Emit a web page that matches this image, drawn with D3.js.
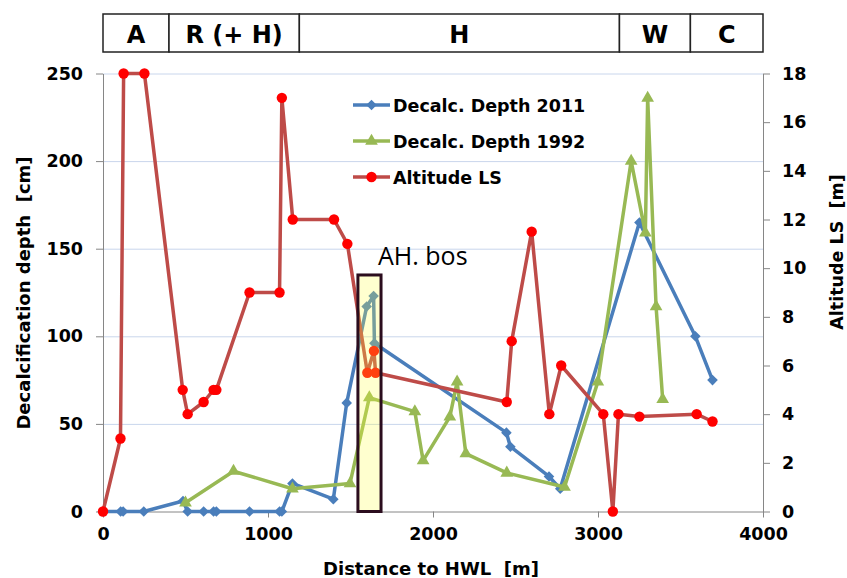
<html>

<head>
  <script src="https://d3js.org/d3.v7.min.js"></script>

  <style>
    body {
      margin: 0;
      background: #fff;
    }

    text {
      font-family: "DejaVu Sans", sans-serif;
      font-weight: bold;
      fill: #000;
      white-space: pre;
    }

    .axis path,
    .axis line {
      stroke: #868686;
    }

    .gridlines line {
      stroke: #c9d6ec;
    }

    .gridlines .domain {
      stroke: none;
    }
  </style>
</head>

<body>
  <svg id="chart" width="847" height="578"></svg>

  <script>
    // Decalcification depth 2011 [cm]
    const dist2011 = [0, 107, 122, 247, 485, 513, 610, 670, 687, 888, 1070, 1084, 1148, 1396, 1477, 1598, 1640, 1645, 2445, 2469, 2703, 2771, 3251, 3590, 3694];
    const depth2011 = [0, 0, 0, 0, 6, 0, 0, 0, 0, 0, 0, 0, 16, 7, 62, 117, 123, 96, 45, 37, 20, 13, 165, 100, 75];

    // Decalcification depth 1992 [cm]
    const dist1992 = [500, 791, 1148, 1497, 1614, 1890, 1940, 2102, 2146, 2199, 2447, 2797, 2999, 3201, 3287, 3301, 3352, 3392];
    const depth1992 = [5, 23, 13, 16, 65, 57, 29, 54, 74, 33, 22, 14, 74, 200, 159, 236, 117, 64];

    // Altitude LS [m] (right axis)
    const distAlt = [0, 106, 125, 251, 483, 513, 610, 670, 687, 888, 1070, 1084, 1150, 1400, 1481, 1602, 1642, 1652, 2447, 2477, 2598, 2705, 2777, 3032, 3090, 3124, 3251, 3598, 3694];
    const altitudeLS = [0, 3, 18, 18, 5, 4, 4.5, 5, 5, 9, 9, 17, 12, 12, 11, 5.7, 6.6, 5.7, 4.5, 7, 11.5, 4, 6, 4, 0, 4, 3.9, 4, 3.7];

    const seriesNames = ["Decalc. Depth 2011", "Decalc. Depth 1992", "Altitude LS"];

    // zones above the chart
    const zoneEdges = [0, 400, 1190, 3130, 3560, 4000];
    const zoneLabels = ["A", "R (+ H)", "H", "W", "C"];

    // highlighted "AH. bos" section
    const ahFrom = 1545, ahTo = 1685, ahTop = 135;

    const xTicks = [0, 1000, 2000, 3000, 4000];
    const depthTicks = [0, 50, 100, 150, 200, 250];
    const altTicks = [0, 2, 4, 6, 8, 10, 12, 14, 16, 18];

    const svg = d3.select("svg#chart");
    const margin = { top: 73.5, right: 84, bottom: 66.5, left: 103 };
    const width = +svg.attr("width");
    const height = +svg.attr("height");

    const xScale = d3.scaleLinear().domain([0, 4000]).range([margin.left, width - margin.right]);
    const yDepth = d3.scaleLinear().domain([0, 250]).range([height - margin.bottom, margin.top]);
    const yAlt = d3.scaleLinear().domain([0, 18]).range([height - margin.bottom, margin.top]);

    const x0 = margin.left, x1 = width - margin.right;
    const yBottom = height - margin.bottom;

    // gridlines
    svg.append("g")
      .attr("class", "gridlines")
      .attr("transform", `translate(${x0},0)`)
      .call(d3.axisLeft(yDepth).tickValues(depthTicks.slice(1)).tickSize(-(x1 - x0)).tickFormat(""));

    // axes
    const leftAxis = svg.append("g")
      .attr("class", "axis")
      .attr("transform", `translate(${x0},0)`)
      .call(d3.axisLeft(yDepth).tickValues(depthTicks).tickSize(7).tickPadding(13).tickSizeOuter(0));

    const rightAxis = svg.append("g")
      .attr("class", "axis")
      .attr("transform", `translate(${x1},0)`)
      .call(d3.axisRight(yAlt).tickValues(altTicks).tickSize(7).tickPadding(12).tickSizeOuter(0));

    const bottomAxis = svg.append("g")
      .attr("class", "axis")
      .attr("transform", `translate(0,${yBottom})`)
      .call(d3.axisBottom(xScale).tickValues(xTicks).tickFormat(d3.format("d"))
        .tickSize(6).tickPadding(10).tickSizeOuter(0));

    [leftAxis, rightAxis, bottomAxis].forEach(a => a.selectAll("text")
      .style("font-family", "'DejaVu Sans', sans-serif")
      .style("font-weight", "bold")
      .style("font-size", "17.5px")
      .attr("fill", "#000"));

    // axis titles
    svg.append("text")
      .attr("transform", `translate(30,${293})rotate(-90)`)
      .attr("text-anchor", "middle")
      .style("font-size", "18px")
      .text("Decalcification depth  [cm]");

    svg.append("text")
      .attr("transform", `translate(843,${252})rotate(-90)`)
      .attr("text-anchor", "middle")
      .style("font-size", "17.5px")
      .text("Altitude LS  [m]");

    svg.append("text")
      .attr("x", 431)
      .attr("y", 575)
      .attr("text-anchor", "middle")
      .style("font-size", "18px")
      .text("Distance to HWL  [m]");

    const series = [
      { name: seriesNames[0], xs: dist2011, ys: depth2011, y: yDepth, color: "#4a7ebb", marker: "diamond" },
      { name: seriesNames[1], xs: dist1992, ys: depth1992, y: yDepth, color: "#98b954", marker: "triangle" },
      { name: seriesNames[2], xs: distAlt, ys: altitudeLS, y: yAlt, color: "#be4b48", marker: "circle" }
    ];

    const markerPath = {
      diamond: d3.symbol(d3.symbolSquare, 56)(),
      triangle: d3.symbol(d3.symbolTriangle, 70)()
    };

    function drawMarker(g, s, cx, cy) {
      if (s.marker === "circle") {
        g.append("circle").attr("cx", cx).attr("cy", cy).attr("r", 5.2).attr("fill", "#ff0000");
      } else if (s.marker === "diamond") {
        g.append("path").attr("d", markerPath.diamond)
          .attr("transform", `translate(${cx},${cy})rotate(45)`).attr("fill", s.color);
      } else {
        g.append("path").attr("d", markerPath.triangle)
          .attr("transform", `translate(${cx},${cy})`).attr("fill", s.color);
      }
    }

    const lineArea = svg.append("g");
    series.forEach(s => {
      const pts = s.xs.map((d, i) => [d, s.ys[i]]);
      const line = d3.line().x(d => xScale(d[0])).y(d => s.y(d[1]));
      const g = lineArea.append("g");
      g.append("path")
        .datum(pts)
        .attr("d", line)
        .attr("fill", "none")
        .attr("stroke", s.color)
        .attr("stroke-width", 3.5)
        .attr("stroke-linejoin", "round");
      pts.forEach(d => drawMarker(g, s, xScale(d[0]), s.y(d[1])));
    });

    // AH. bos box
    svg.append("rect")
      .attr("x", xScale(ahFrom))
      .attr("y", yDepth(ahTop))
      .attr("width", xScale(ahTo) - xScale(ahFrom))
      .attr("height", yDepth(0) - yDepth(ahTop))
      .attr("fill", "#ffff40")
      .attr("fill-opacity", 0.25)
      .attr("stroke", "#2b0d1e")
      .attr("stroke-width", 3);

    svg.append("text")
      .attr("x", 378)
      .attr("y", 265)
      .style("font-family", "'Open Sans', sans-serif")
      .style("font-weight", "normal")
      .style("font-size", "25px")
      .text("AH. bos");

    // legend
    const legend = svg.append("g");
    series.forEach((s, i) => {
      const ly = 105 + i * 36;
      const g = legend.append("g");
      g.append("line")
        .attr("x1", 353).attr("x2", 390)
        .attr("y1", ly).attr("y2", ly)
        .attr("stroke", s.color)
        .attr("stroke-width", 3.5);
      drawMarker(g, s, 371.5, ly);
      g.append("text")
        .attr("x", 393)
        .attr("y", ly + 7)
        .style("font-size", "17.5px")
        .text(s.name);
    });

    // zone header
    const zones = svg.append("g");
    zoneLabels.forEach((label, i) => {
      const a = xScale(zoneEdges[i]), b = xScale(zoneEdges[i + 1]);
      zones.append("rect")
        .attr("x", a).attr("y", 14)
        .attr("width", b - a).attr("height", 38)
        .attr("fill", "#fff")
        .attr("stroke", "#222")
        .attr("stroke-width", 1.5);
      zones.append("text")
        .attr("x", (a + b) / 2)
        .attr("y", 43)
        .attr("text-anchor", "middle")
        .style("font-size", "24px")
        .text(label);
    });
  </script>

</body>

</html>
